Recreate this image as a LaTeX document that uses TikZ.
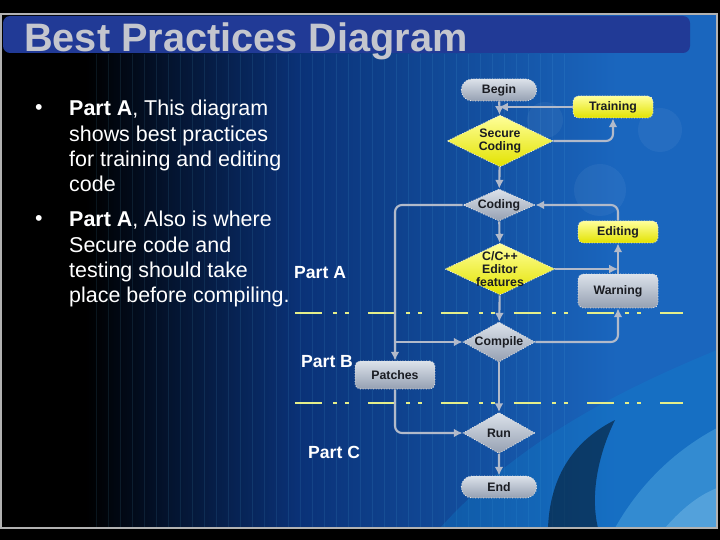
\documentclass[tikz,border=0pt]{standalone}
\usepackage{fontspec}
\setmainfont{Liberation Sans}
\usepackage{tikz}
\usetikzlibrary{arrows.meta,positioning,shapes.misc,shapes.geometric}
\definecolor{bandBlue}{HTML}{213A96}
\definecolor{bgMid}{HTML}{0A3278}
\definecolor{bgRight}{HTML}{1A66BE}
\definecolor{titleGray}{HTML}{C4C6CE}
\definecolor{flowGray}{HTML}{B2BACA}
\definecolor{boxTop}{HTML}{DCE2EA}
\definecolor{boxBot}{HTML}{95A0B2}
\definecolor{yelTop}{HTML}{FFFF9A}
\definecolor{yelBot}{HTML}{E2E200}
\definecolor{sepLine}{HTML}{E4EE8A}
\definecolor{ink}{HTML}{1A1C22}
\pgfdeclarehorizontalshading{slidebg}{100bp}{color(0bp)=(black); color(25bp)=(black); color(31bp)=(black); color(46bp)=(bgMid); color(68bp)=(bgRight); color(100bp)=(bgRight)}

\begin{document}
\begin{tikzpicture}[x=0.02cm,y=-0.02cm,>=Latex,
  lbl/.style={font=\fontsize{7}{7.6}\selectfont\bfseries,text=ink,align=center},
  grayfill/.style={top color=boxTop,bottom color=boxBot},
  yelfill/.style={top color=yelTop,bottom color=yelBot},
  outline/.style={draw=white!80!gray,densely dotted,line width=.5pt},
  box/.style={lbl,outline,rounded corners=3pt,inner sep=1pt,minimum width=1.6cm},
  term/.style={lbl,outline,grayfill,rounded rectangle,inner sep=1pt,minimum width=1.58cm,minimum height=0.44cm},
  diam/.style={lbl,outline,diamond,aspect=2,inner sep=-3pt},
  flow/.style={->,draw=flowGray,line width=1.2pt,rounded corners=4pt,
    arrows={-Latex[length=5pt,width=5pt]}},
  bodytxt/.style={text=white,font=\fontsize{12.2}{14.5}\selectfont},
  partlbl/.style={font=\fontsize{10}{12}\selectfont\bfseries,text=white,anchor=base west},
  sep/.style={sepLine,line width=1.6pt,
    dash pattern=on 0.54cm off 0.22cm on 0.08cm off 0.16cm on 0.08cm off 0.38cm}]
\useasboundingbox (0,0) rectangle (720,540);
% slide background
\fill[black] (0,0) rectangle (720,540);
\shade[shading=slidebg] (0,14) rectangle (717,528);
\draw[step=12,cyan!60,opacity=.10] (96,54) grid (564,528);
\fill[white,opacity=.05] (600,190) circle (26);
\fill[white,opacity=.05] (660,130) circle (22);
\fill[white,opacity=.05] (545,120) circle (18);
\fill[cyan!70!blue,opacity=.28] (440,528) .. controls (520,440) and (620,390) .. (717,350) -- (717,528) -- cycle;
\fill[black,opacity=.45] (548,528) .. controls (550,475) and (575,440) .. (615,420) .. controls (598,455) and (590,495) .. (598,528) -- cycle;
\fill[cyan!50,opacity=.28] (615,528) .. controls (645,475) and (685,445) .. (717,428) -- (717,528) -- cycle;
\fill[cyan!30,opacity=.25] (665,528) .. controls (685,505) and (702,494) .. (717,488) -- (717,528) -- cycle;
\draw[gray!60,line width=.6pt] (1,14) rectangle (717,528);
% title band
\fill[bandBlue,rounded corners=4pt] (3,16) rectangle (690,53);
\node[font=\fontsize{22.6}{26}\selectfont\bfseries,text=titleGray,anchor=base west] (title) at (18,52) {Best Practices Diagram};
% bullets
\node[bodytxt,anchor=base] (b1) at (39,115) {•};
\node[bodytxt,anchor=base west,align=left] (t1) at (63,192)
  {\textbf{Part A}, This diagram\\shows best practices\\for training and editing\\code};
\node[bodytxt,anchor=base] (b2) at (39,226) {•};
\node[bodytxt,anchor=base west,align=left] (t2) at (63,303)
  {\textbf{Part A}, Also is where\\Secure code and\\testing should take\\place before compiling.};
\node[partlbl] (parta) at (288,279) {Part A};
\node[partlbl] (partb) at (295,368) {Part B};
\node[partlbl] (partc) at (302,459) {Part C};
% separators
\draw[sep] (295,313) -- (683,313);
\draw[sep] (295,403) -- (683,403);
% flowchart
\node[term] (begin) at (499,90) {Begin};
\node[box,yelfill,minimum height=0.44cm] (training) at (613,107) {Training};
\node[diam,yelfill,minimum width=2.12cm,minimum height=1.04cm] (secure) at (500,141) {Secure\\Coding};
\node[diam,grayfill,minimum width=1.44cm,minimum height=0.64cm] (coding) at (499,205) {Coding};
\node[box,yelfill,minimum height=0.44cm] (editing) at (618,232) {Editing};
\node[diam,yelfill,minimum width=2.2cm,minimum height=1.04cm] (editor) at (500,269) {C/C++\\Editor\\features};
\node[box,grayfill,minimum height=0.68cm] (warning) at (618,291) {Warning};
\node[diam,grayfill,minimum width=1.44cm,minimum height=0.8cm] (compile) at (499,342) {Compile};
\node[box,grayfill,minimum height=0.56cm] (patches) at (395,375) {Patches};
\node[diam,grayfill,minimum width=1.44cm,minimum height=0.82cm] (run) at (499,433) {Run};
\node[term] (end) at (499,487) {End};
\coordinate (split) at (patches.north |- compile.west);
\draw[flow] (begin) -- (secure);
\draw[flow] (training.west) -- (training.west -| begin.south);
\draw[flow] (secure.east) -| (training.south);
\draw[flow] (secure) -- (coding);
\draw[flow] (coding) -- (editor);
\draw[flow] (coding.west) -| (patches.north);
\draw[flow] (split) -- (compile.west);
\draw[flow] (editor.east) -- (editor.east -| warning.north);
\draw[flow] (warning) -- (editing);
\draw[flow] (editing.north) |- (coding.east);
\draw[flow] (editor) -- (compile);
\draw[flow] (compile.east) -| (warning.south);
\draw[flow] (compile) -- (run);
\draw[flow] (patches.south) |- (run.west);
\draw[flow] (run) -- (end);
\end{tikzpicture}
\end{document}
